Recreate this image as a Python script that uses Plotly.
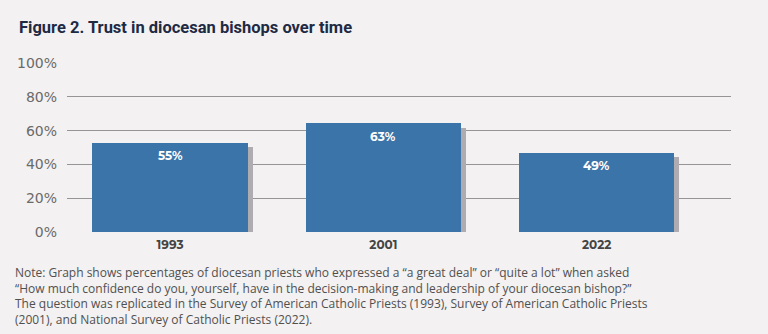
import plotly.graph_objects as go

years = ["1993", "2001", "2022"]
bar_heights = [52.9, 64.4, 47.0]
value_labels = ["55%", "63%", "49%"]
y_ticks = [0, 20, 40, 60, 80, 100]
y_tick_labels = ["0%", "20%", "40%", "60%", "80%", "100%"]

title_text = "Figure 2. Trust in diocesan bishops over time"
note_text = ("Note: Graph shows percentages of diocesan priests who expressed a “a great deal” or “quite a lot” when asked<br>"
             "“How much confidence do you, yourself, have in the decision-making and leadership of your diocesan bishop?”<br>"
             "The question was replicated in the Survey of American Catholic Priests (1993), Survey of American Catholic Priests<br>"
             "(2001), and National Survey of Catholic Priests (2022).")

BG = "#f3f1f1"
BAR = "#3b74a8"
SHADOW = "#aeacb0"

idx = list(range(len(years)))
shadow_dx = 0.0234
shadow_dy = 2.7

fig = go.Figure()
fig.add_trace(go.Bar(
    x=[i + shadow_dx for i in idx],
    y=[h - shadow_dy for h in bar_heights],
    width=0.727,
    marker=dict(color=SHADOW, line=dict(width=0)),
    hoverinfo="skip",
    showlegend=False,
))
fig.add_trace(go.Bar(
    x=idx,
    y=bar_heights,
    width=0.727,
    marker=dict(color=BAR, line=dict(width=0)),
    showlegend=False,
))

for i, h, lab in zip(idx, bar_heights, value_labels):
    fig.add_annotation(
        x=i, y=h, text=lab, showarrow=False, yanchor="middle", yshift=-13,
        font=dict(family="Montserrat, Open Sans, sans-serif", size=12, color="white", weight="bold"),
    )

fig.add_annotation(
    xref="paper", yref="paper", x=(13 - 67) / 664, y=(232 - 262) / 169,
    xanchor="left", yanchor="top", align="left", showarrow=False,
    text=note_text,
    font=dict(family="Open Sans, sans-serif", size=12, color="#505050"),
)

fig.update_layout(
    width=768, height=334,
    margin=dict(l=67, r=37, t=63, b=102),
    paper_bgcolor=BG, plot_bgcolor=BG,
    barmode="overlay",
    bargap=0,
    title=dict(
        text="<b>" + title_text + "</b>",
        xref="container", yref="container", x=19 / 768, y=1 - 27 / 334,
        xanchor="left", yanchor="middle",
        font=dict(family="Roboto, sans-serif", size=16.5, color="#1e2a44"),
    ),
    xaxis=dict(
        range=[-0.483, 2.63],
        tickmode="array", tickvals=idx, ticktext=years,
        showgrid=False, zeroline=False, showline=False, ticks="",
        ticklabelstandoff=4,
        tickfont=dict(family="Montserrat, Open Sans, sans-serif", size=12, color="#444444", weight="bold"),
    ),
    yaxis=dict(
        range=[0, 100],
        tickmode="array", tickvals=y_ticks, ticktext=y_tick_labels,
        showgrid=True, gridcolor="#959595", gridwidth=1.3,
        zeroline=False, showline=False, ticks="",
        ticklabelstandoff=9,
        tickfont=dict(family="DejaVu Sans, sans-serif", size=14, color="#6a6a6a"),
    ),
)

fig.write_html("out.html")
